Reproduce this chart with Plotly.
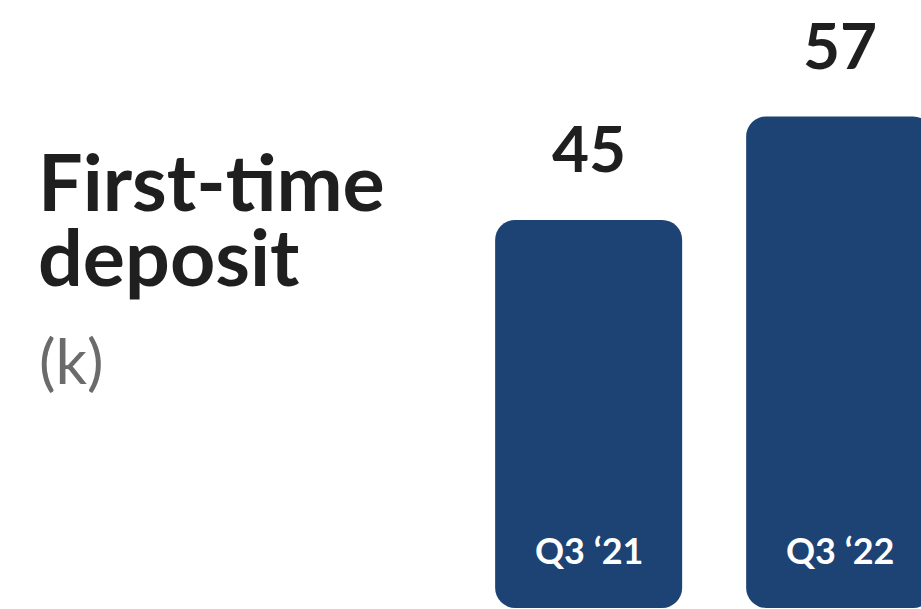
import plotly.graph_objects as go

categories = ["Q3 \u201821", "Q3 \u201822"]
values = [45, 57]
value_labels = ["45", "57"]
title_lines = ["First-time", "deposit"]
unit_label = "(k)"

BAR_COLOR = "#1c4373"
W, H = 921, 609
FONT = "Lato"

def py(px):
    return 1 - px / H

fig = go.Figure()
fig.add_trace(go.Bar(
    x=categories, y=values, base=[0] * len(values), width=0.745,
    marker=dict(color=BAR_COLOR, line=dict(width=0), cornerradius=20),
    hoverinfo="skip", showlegend=False,
))

annotations = []
for c, v, lbl in zip(categories, values, value_labels):
    annotations.append(dict(
        x=c, y=v, xref="x", yref="y", text=f"<b>{lbl}</b>", showarrow=False,
        yanchor="middle", xanchor="center", yshift=72,
        font=dict(family=FONT, size=64, color="#1f1f1f"),
    ))
    annotations.append(dict(
        x=c, y=0, xref="x", yref="y", text=f"<b>{c}</b>", showarrow=False,
        yanchor="middle", xanchor="center", yshift=58,
        font=dict(family=FONT, size=36, color="#ffffff"),
    ))

annotations.append(dict(
    x=36 / W, y=py(180), xref="paper", yref="paper", text=f"<b>{title_lines[0]}</b>",
    showarrow=False, xanchor="left", yanchor="middle",
    font=dict(family=FONT, size=79, color="#1f1f1f"),
))
annotations.append(dict(
    x=36 / W, y=py(255), xref="paper", yref="paper", text=f"<b>{title_lines[1]}</b>",
    showarrow=False, xanchor="left", yanchor="middle",
    font=dict(family=FONT, size=79, color="#1f1f1f"),
))
annotations.append(dict(
    x=37 / W, y=py(360), xref="paper", yref="paper", text=unit_label,
    showarrow=False, xanchor="left", yanchor="middle",
    font=dict(family=FONT, size=62, color="#6b6b6b"),
))

fig.update_layout(
    width=W, height=H,
    margin=dict(l=0, r=0, t=0, b=0),
    paper_bgcolor="white", plot_bgcolor="white",
    xaxis=dict(type="category", range=[-2.345, 1.324], showticklabels=False,
               showgrid=False, zeroline=False, showline=False, fixedrange=True),
    yaxis=dict(range=[-0.12, 70.5], showticklabels=False, showgrid=False,
               zeroline=False, showline=False, fixedrange=True),
    annotations=annotations,
    showlegend=False,
)

fig.write_html("out.html", config={"displayModeBar": False},
               post_script="document.body.style.margin='0';document.body.style.padding='0';")
